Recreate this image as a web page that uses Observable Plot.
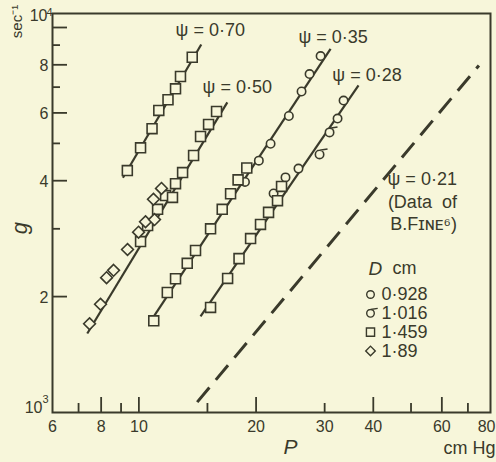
<!DOCTYPE html>
<html><head><meta charset="utf-8">
<script src="https://cdn.jsdelivr.net/npm/d3@7"></script>
<script src="https://cdn.jsdelivr.net/npm/@observablehq/plot@0.6"></script>
<style>
html,body{margin:0;padding:0;background:#f7f6da;}
svg{display:block;}
</style></head><body><div id="chart"></div>
<script>
// ---------- data (P in cm Hg, g in sec^-1) ----------
// D = 0.928 cm (open circles)
const circP = [18.73, 20.33, 21.79, 24.28, 26.17, 27.44, 29.29, 22.18, 23.80, 25.70, 32.38, 33.55];
const circG = [3970, 4510, 4990, 5890, 6820, 7570, 8430, 3705, 4080, 4300, 5800, 6460];
// D = 1.016 cm (circle with tail)
const sigP = [29.11, 30.88];
const sigG = [4680, 5340];
// D = 1.459 cm (squares)
const sqP = [9.34, 10.10, 10.81, 11.25, 11.88, 12.42, 12.79, 13.71,
             10.10, 10.53, 11.17, 11.71, 12.20, 12.42, 12.95, 13.82, 14.40, 15.10, 15.83,
             10.92, 11.83, 12.42, 13.31, 13.98, 15.28, 16.37, 17.20, 17.98, 18.93,
             15.28, 16.90, 18.08, 19.36, 20.53, 21.53, 22.70, 23.25];
const sqG = [4250, 4870, 5460, 6090, 6490, 6930, 7460, 8370,
             2780, 3060, 3370, 3660, 3620, 3930, 4200, 4650, 5210, 5600, 6050,
             1730, 2050, 2225, 2440, 2635, 3000, 3370, 3700, 4020, 4315,
             1875, 2230, 2510, 2830, 3080, 3310, 3550, 3865];
// D = 1.89 cm (diamonds)
const diaP = [7.47, 7.97, 8.26, 8.61, 9.35, 9.98, 10.40, 10.97, 10.90, 11.43];
const diaG = [1700, 1910, 2240, 2340, 2650, 2940, 3130, 3170, 3580, 3820];

// fitted lines (end points)
const fitPsi = ["0·70", "0·50", "0·35", "0·28", "0·21"];
const fitP = [[9.10, 14.46], [7.37, 16.87], [10.61, 31.07], [14.40, 36.65], [14.12, 74.7]];
const fitG = [[4070, 9030], [1604, 6390], [1700, 8800], [1776, 7070], [1064, 7970]];

// legend / ticks
const legendD = ["0·928", "1·016", "1·459", "1·89"];
const xLabelTicks = [6, 8, 10, 20, 30, 40, 60, 80];
const xMajorTicks = [8, 10, 20, 40, 60];
const xMinorTicks = [7, 9, 15, 30, 50, 70];
const yLabelTicks = [2000, 4000, 6000, 8000];
const yMajorTicks = [2000, 4000, 6000, 8000, 10000];
const yMinorTicks = [3000, 5000, 7000, 9000];

// ---------- layout / style ----------
const INK = "#3a3a2b", BG = "#f7f6da";
const W = 496, H = 462, ML = 52, MR = 6, MT = 13, MB = 50;
const FW = W - ML - MR, FH = H - MT - MB;
const FONT = "Liberation Sans, Arial, sans-serif";

const sigmaSymbol = {
  draw(ctx, size) {
    const r = Math.sqrt(size / Math.PI);
    ctx.moveTo(r, 0);
    ctx.arc(0, 0, r, 0, 2 * Math.PI);
    ctx.moveTo(0, -r);
    ctx.lineTo(r * 1.9, -r * 1.3);
  }
};

const series = [
  {P: circP, g: circG, symbol: "circle", r: 4.2, lr: 3.8},
  {P: sigP, g: sigG, symbol: sigmaSymbol, r: 4.2, lr: 3.8},
  {P: sqP, g: sqG, symbol: "square", r: 5.6, lr: 4.6},
  {P: diaP, g: diaG, symbol: "diamond2", r: 5.3, lr: 4.3}
];

const labelOffsets = [[9, -14.5], [10, -15.5], [2.5, -12], [8.5, -10]];
const xMax = xLabelTicks[xLabelTicks.length - 1];

const marks = [];
marks.push(Plot.frame({stroke: INK, strokeWidth: 2}));
// ticks (inward)
marks.push(Plot.tickX(xMajorTicks, {x: d => d, insetTop: FH - 15, stroke: INK, strokeWidth: 1.8}));
marks.push(Plot.tickX(xMinorTicks, {x: d => d, insetTop: FH - 9, stroke: INK, strokeWidth: 1.8}));
marks.push(Plot.tickY(yMajorTicks, {y: d => d, insetRight: FW - 15, stroke: INK, strokeWidth: 1.8}));
marks.push(Plot.tickY(yMinorTicks, {y: d => d, insetRight: FW - 8, stroke: INK, strokeWidth: 1.8}));
// tick labels
marks.push(Plot.text(xLabelTicks.filter(d => d < xMax), {x: d => d, frameAnchor: "bottom", dy: 14, text: d => String(d), fontSize: 16, textAnchor: "middle", lineAnchor: "middle", fill: INK}));
marks.push(Plot.text([xMax], {x: d => d, frameAnchor: "bottom", dx: 5, dy: 14, text: d => String(d), fontSize: 16, textAnchor: "end", lineAnchor: "middle", fill: INK}));
marks.push(Plot.text(yLabelTicks, {y: d => d, frameAnchor: "left", dx: -4, dy: 1, text: d => String(d / 1000), fontSize: 16, textAnchor: "end", lineAnchor: "middle", fill: INK}));
marks.push(Plot.text([10000], {y: d => d, frameAnchor: "left", dx: -5, dy: -11.5, text: () => "10", fontSize: 16, textAnchor: "end", lineAnchor: "middle", fill: INK}));
marks.push(Plot.text([10000], {y: d => d, frameAnchor: "left", dx: 0, dy: -15.5, text: () => "4", fontSize: 11, textAnchor: "end", lineAnchor: "middle", fill: INK}));
marks.push(Plot.text([1000], {y: d => d, frameAnchor: "left", dx: -10, dy: -5, text: () => "10", fontSize: 16, textAnchor: "end", lineAnchor: "middle", fill: INK}));
marks.push(Plot.text([1000], {y: d => d, frameAnchor: "left", dx: -4, dy: -13, text: () => "3", fontSize: 11, textAnchor: "end", lineAnchor: "middle", fill: INK}));

// fit lines
fitPsi.forEach((psi, k) => {
  marks.push(Plot.line([0, 1], {
    x: i => fitP[k][i], y: i => fitG[k][i], stroke: INK,
    strokeWidth: k === 4 ? 3 : 2.2,
    strokeDasharray: k === 4 ? "19,10" : null,
    strokeLinecap: "butt"
  }));
});
// data markers
series.forEach(s => {
  marks.push(Plot.dot(d3.range(s.P.length), {
    x: i => s.P[i], y: i => s.g[i], symbol: s.symbol, r: s.r,
    stroke: INK, fill: BG, strokeWidth: 1.6
  }));
});
// psi labels at the upper ends of the lines
labelOffsets.forEach(([dx, dy], k) => {
  marks.push(Plot.text([k], {
    x: i => fitP[i][1], y: i => fitG[i][1], text: i => "ψ = " + fitPsi[i],
    dx, dy, fontSize: 18, textAnchor: "middle", lineAnchor: "middle", fill: INK
  }));
});
marks.push(Plot.text([4], {
  x: i => fitP[i][1], y: i => fitG[i][1],
  text: i => "ψ = " + fitPsi[i] + "\n(Data  of\nB.Fɪɴᴇ⁶)",
  dx: -22, dy: 104, fontSize: 18, textAnchor: "end", lineAnchor: "top", lineHeight: 1.25, fill: INK
}));

// legend
marks.push(Plot.text(["D"], {frameAnchor: "top-left", dx: 316, dy: 255, text: d => d, fontSize: 19, fontStyle: "italic", textAnchor: "start", lineAnchor: "middle", fill: INK}));
marks.push(Plot.text(["cm"], {frameAnchor: "top-left", dx: 340, dy: 255, text: d => d, fontSize: 18, textAnchor: "start", lineAnchor: "middle", fill: INK}));
legendD.forEach((lab, i) => {
  const s = series[i];
  marks.push(Plot.dot([lab], {frameAnchor: "top-left", dx: 318, dy: 281 + i * 18.8, symbol: s.symbol, r: s.lr, stroke: INK, fill: BG, strokeWidth: 1.4}));
  marks.push(Plot.text([lab], {frameAnchor: "top-left", dx: 329, dy: 281 + i * 18.8, text: d => d, fontSize: 18, textAnchor: "start", lineAnchor: "middle", fill: INK}));
});

// axis titles
marks.push(Plot.text(["P"], {frameAnchor: "bottom", dx: 19, dy: 35, text: d => d, fontSize: 21, fontStyle: "italic", textAnchor: "middle", lineAnchor: "middle", fill: INK}));
marks.push(Plot.text(["cm Hg"], {frameAnchor: "bottom-right", dx: 5, dy: 36, text: d => d, fontSize: 18, textAnchor: "end", lineAnchor: "middle", fill: INK}));
marks.push(Plot.text(["g"], {frameAnchor: "left", dx: -33, dy: 15, text: d => d, fontSize: 22, fontStyle: "italic", rotate: -90, textAnchor: "middle", lineAnchor: "middle", fill: INK}));
marks.push(Plot.text(["sec⁻¹"], {frameAnchor: "top-left", dx: -35, dy: 8, text: d => d, fontSize: 15, rotate: -90, textAnchor: "middle", lineAnchor: "middle", fill: INK}));

const plot = Plot.plot({
  width: W, height: H,
  marginLeft: ML, marginRight: MR, marginTop: MT, marginBottom: MB,
  x: {type: "log", domain: [6, 80], axis: null},
  y: {type: "log", domain: [1000, 10873], axis: null},
  style: {background: BG, color: INK, fontFamily: FONT, fontSize: "16px", overflow: "visible"},
  marks
});
document.getElementById("chart").append(plot);
</script></body></html>
